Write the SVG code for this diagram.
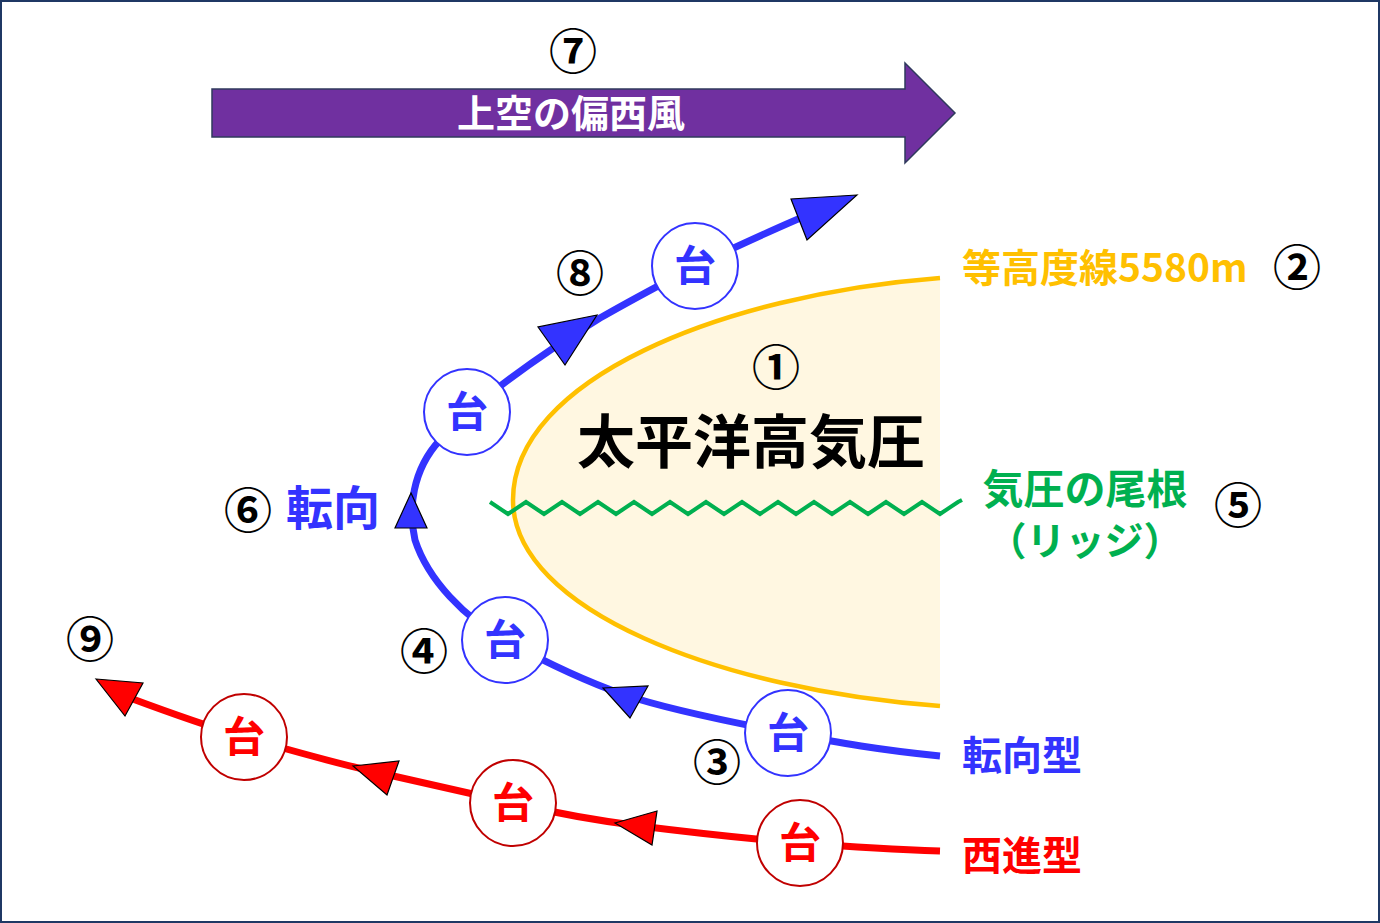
<svg xmlns="http://www.w3.org/2000/svg" width="1380" height="923" viewBox="0 0 1380 923">
<defs>
<style>
.t{font-family:"Noto Sans CJK JP","Noto Sans",sans-serif;font-weight:bold}
.num{font-family:"Noto Sans CJK JP","Noto Sans",sans-serif;font-weight:bold;font-size:48px;fill:#000;text-anchor:middle}
.bc{fill:#fff;stroke:#3333FF;stroke-width:2}
.rc{fill:#fff;stroke:#C00000;stroke-width:2}
.bt{fill:#3333FF}
.rt{fill:#FF0000}
.tai{font-size:42px;text-anchor:middle}
.bh{fill:#3333FF;stroke:#000;stroke-width:1.2;stroke-linejoin:miter}
.rh{fill:#FF0000;stroke:#000;stroke-width:1.2;stroke-linejoin:miter}
</style>
</defs>
<rect x="0" y="0" width="1380" height="923" fill="#fff"/>
<rect x="1" y="1" width="1378" height="921" fill="none" stroke="#1F3864" stroke-width="2"/>

<g id="westerlies">
<polygon points="212,89 905,89 905,63 955,113 905,163 905,137 212,137" fill="#7030A0" stroke="#2F3A5C" stroke-width="1.5"/>
<text class="t" x="571" y="127" font-size="38" fill="#fff" text-anchor="middle">上空の偏西風</text>
<text class="num" x="573" y="69">⑦</text>
</g>

<g id="high-pressure">
<path d="M940,278 C720,295 513,380 513,500 C513,610 720,690 940,706 Z" fill="#FFF7E1" stroke="none"/>
<path d="M940,278 C720,295 513,380 513,500 C513,610 720,690 940,706" fill="none" stroke="#FFC000" stroke-width="4.5"/>
<text class="num" x="776" y="385">①</text>
<text class="t" x="751" y="463" font-size="58" fill="#000" text-anchor="middle">太平洋高気圧</text>
</g>

<g id="ridge">
<polyline points="490,502 508,514 526,502 544,514 562,502 580,514 598,502 616,514 634,502 652,514 670,502 688,514 706,502 724,514 742,502 760,514 778,502 796,514 814,502 832,514 850,502 868,514 886,502 904,514 922,502 940,514 958,502 962,500" fill="none" stroke="#00B050" stroke-width="4" stroke-linejoin="miter"/>
<text class="t" x="1085" y="504" font-size="41" fill="#00B050" text-anchor="middle">気圧の尾根</text>
<text class="t" x="1085" y="555" font-size="39" fill="#00B050" text-anchor="middle">（リッジ）</text>
<text class="num" x="1238" y="523">⑤</text>
</g>

<g id="contour-label">
<text class="t" x="962" y="282" font-size="39" fill="#FFC000">等高度線5580m</text>
<text class="num" x="1297" y="285">②</text>
</g>

<g id="connectors">
<path id="recurve-track" d="M940,756 C880,750 840,743 788,733 C730,722 670,710 625,695 C585,681 545,662 505,640 C465,618 428,580 415,540 C408,510 412,470 440,440 C450,430 460,420 467,412 C500,385 540,355 600,318 C640,295 670,280 695,266 C740,245 780,226 815,212" fill="none" stroke="#3333FF" stroke-width="7"/>
<path id="west-track" d="M940,851 C880,849 840,846 800,843 C740,838 680,831 640,826 C600,821 555,813 513,803 C460,791 420,782 380,773 C330,762 290,750 244,737 C200,724 165,711 130,698" fill="none" stroke="#FF0000" stroke-width="7"/>
<polygon class="bh" points="603,688 648,686 630,718"/>
<polygon class="bh" points="411,493 395,528 427,528"/>
<polygon class="bh" points="597,315 538,327 565,365"/>
<polygon class="bh" points="857,195 791,199 807,240"/>
<polygon class="rh" points="615,823 657,811 652,845"/>
<polygon class="rh" points="353,766 399,761 387,795"/>
<polygon class="rh" points="96,679 143,683 125,716"/>
</g>

<g id="typhoon-b1"><circle class="bc" cx="788" cy="733" r="43"/><text class="t bt tai" x="788" y="748">台</text></g>
<g id="typhoon-b2"><circle class="bc" cx="505" cy="640" r="43"/><text class="t bt tai" x="505" y="655">台</text></g>
<g id="typhoon-b3"><circle class="bc" cx="467" cy="412" r="43"/><text class="t bt tai" x="467" y="427">台</text></g>
<g id="typhoon-b4"><circle class="bc" cx="695" cy="266" r="43"/><text class="t bt tai" x="695" y="281">台</text></g>
<g id="typhoon-r1"><circle class="rc" cx="800" cy="843" r="43"/><text class="t rt tai" x="800" y="858">台</text></g>
<g id="typhoon-r2"><circle class="rc" cx="513" cy="803" r="43"/><text class="t rt tai" x="513" y="818">台</text></g>
<g id="typhoon-r3"><circle class="rc" cx="244" cy="737" r="43"/><text class="t rt tai" x="244" y="752">台</text></g>

<g id="labels">
<text class="t" x="962" y="770" font-size="40" fill="#3333FF">転向型</text>
<text class="t" x="962" y="870" font-size="40" fill="#FF0000">西進型</text>
<text class="t" x="286" y="525" font-size="47" fill="#3333FF">転向</text>
<text class="num" x="248" y="528">⑥</text>
<text class="num" x="580" y="291">⑧</text>
<text class="num" x="424" y="669">④</text>
<text class="num" x="717" y="780">③</text>
<text class="num" x="90" y="657">⑨</text>
</g>
</svg>
